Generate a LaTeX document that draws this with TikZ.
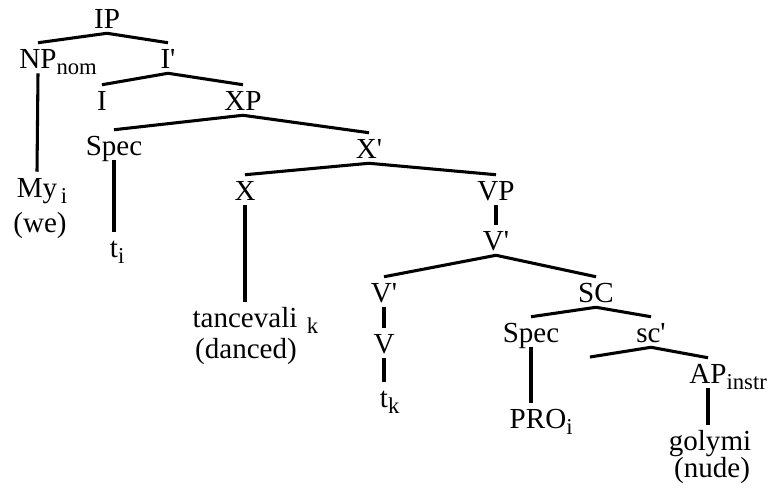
\documentclass[tikz,border=0pt]{standalone}
\usepackage{fontspec}
\setmainfont{Liberation Serif}[Ligatures=TeXOff]
\usepackage{tikz}
\usetikzlibrary{positioning}

% lowered subscript that takes no width in the node
\newcommand{\sub}[1]{\rlap{\raisebox{-4.5pt}{\fontsize{17}{17}\selectfont #1}}}

\tikzset{
  cat/.style = {inner sep=0pt, text height=18.75pt, text depth=3.75pt, anchor=base,
                font=\fontsize{21.8}{24}\selectfont},
  gloss/.style = {inner sep=0pt, anchor=base, font=\fontsize{21.8}{24}\selectfont},
  branch/.style = {line width=2.3pt}
}

\begin{document}
\begin{tikzpicture}[x=0.75pt, y=-0.75pt]
\useasboundingbox (0,0) rectangle (778,487);

% upper part of the tree
\node (ip) [cat] at (107,28) {IP};
\node (np) [cat] at (38,68) {NP\sub{nom}};
\node (ibar) [cat] at (168,68) {I'};
\node (i) [cat] at (102,110) {I};
\node (xp) [cat] at (243,110) {XP};
\node (spec) [cat] at (114,155) {Spec};
\node (xbar) [cat] at (369,158) {X'};
\node (my) [cat] at (37,197) {My\sub{\,i}};
\node (we) [gloss] at (40,232) {(we)};
\node (ti) [cat] at (114,257) {t\sub{i}};
\node (x) [cat] at (245,200) {X};
\node (tanc) [cat] at (245,327) {tancevali\sub{\ \,k}};
\node (danced) [gloss] at (246,358) {(danced)};

% verb phrase and small clause
\node (vp) [cat] at (496,200) {VP};
\node (vbar) [cat] at (496,250) {V'};
\node (vbarb) [cat] at (384,302) {V'};
\node (v) [cat] at (384,353) {V};
\node (tk) [cat] at (384,407) {t\sub{k}};
\node (sc) [cat] at (596,302) {SC};
\node (spec2) [cat] at (531,342) {Spec};
\node (scbar) [cat] at (651,342) {sc'};
\coordinate (scgap) at (590,357);
\node (pro) [cat] at (538,428) {PRO\sub{i}};
\node (ap) [cat] at (708,383) {AP\sub{instr}};
\node (golymi) [cat] at (710,450) {golymi};
\node (nude) [gloss] at (712,477) {(nude)};

\draw [branch] (ip.south) -- (np.north);
\draw [branch] (ip.south) -- (ibar.north);
\draw [branch] (np.south) -- (my.north);
\draw [branch] (ibar.south) -- (i.north);
\draw [branch] (ibar.south) -- (xp.north);
\draw [branch] (xp.south) -- (spec.north);
\draw [branch] (xp.south) -- (xbar.north);
\draw [branch] (spec.south) -- (ti.north);
\draw [branch] (xbar.south) -- (x.north);
\draw [branch] (xbar.south) -- (vp.north);
\draw [branch] (x.south) -- (tanc.north);
\draw [branch] (vp.south) -- (vbar.north);
\draw [branch] (vbar.south) -- (vbarb.north);
\draw [branch] (vbar.south) -- (sc.north);
\draw [branch] (vbarb.south) -- (v.north);
\draw [branch] (v.south) -- (tk.north);
\draw [branch] (sc.south) -- (spec2.north);
\draw [branch] (sc.south) -- (scbar.north);
\draw [branch] (spec2.south) -- (spec2.south |- pro.north);
\draw [branch] (scbar.south) -- (scgap);
\draw [branch] (scbar.south) -- (ap.north);
\draw [branch] (ap.south) -- (ap.south |- golymi.north);
\end{tikzpicture}
\end{document}
